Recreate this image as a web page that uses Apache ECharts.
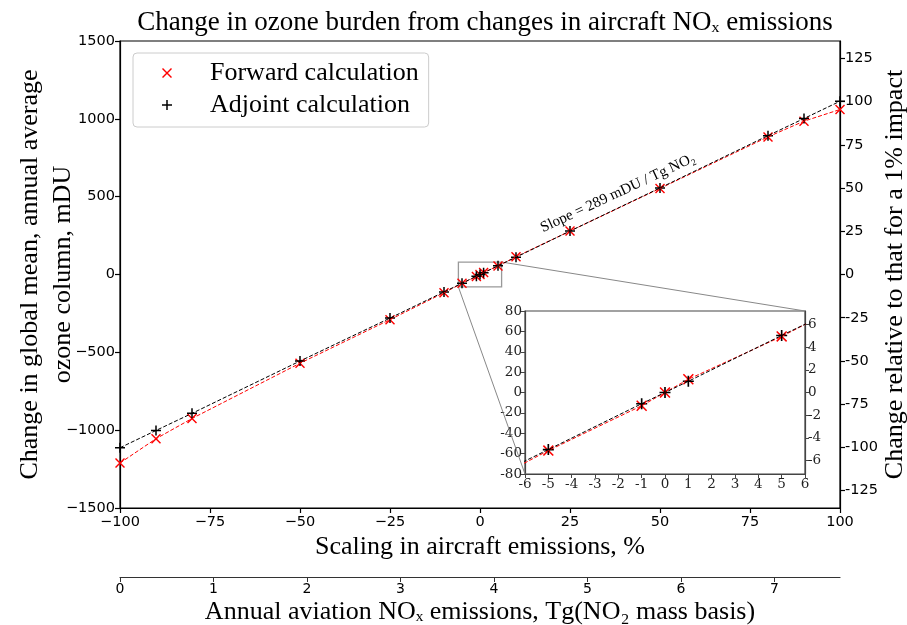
<!DOCTYPE html>
<html><head><meta charset="utf-8">
<script src="https://cdn.jsdelivr.net/npm/echarts@6/dist/echarts.min.js"></script>
<style>html,body{margin:0;background:#fff}#c{width:907px;height:625px}</style>
</head><body><div id="c"></div>
<script>
// ---- data ----
const scaling = [-100,-90,-80,-50,-25,-10,-5,-1,0,1,5,10,25,50,80,90,100];
const forward = [-1211,-1055,-925,-570,-290,-117,-57,-13,0,13,55,114,279,553,884,985,1060];
const adjoint = [-1113,-1002,-892,-556,-280,-112,-56,-11,0,11,56,111,279,556,892,1002,1113];
const mainXTicks = [-100,-75,-50,-25,0,25,50,75,100];
const leftYTicks = [-1500,-1000,-500,0,500,1000,1500];
const rightYTicks = [-125,-100,-75,-50,-25,0,25,50,75,100,125];
const emissionTicks = [0,1,2,3,4,5,6,7];
const insetXTicks = [-6,-5,-4,-3,-2,-1,0,1,2,3,4,5,6];
const insetYTicks = [-80,-60,-40,-20,0,20,40,60,80];
const insetRightTicks = [-6,-4,-2,0,2,4,6];
const baseEmission = 3.85;      // Tg NO2 at 0% scaling
const percentPerMdu = 0.09;     // right axis: % of 1% impact per mDU
const slopeLabel = 'Slope = 289 mDU / Tg NO\u2082';

const xPath = 'path://M0,1 L1,0 L10,9 L9,10 Z M9,0 L10,1 L1,10 L0,9 Z';
const plusPath = 'path://M4.25,0 H5.75 V10 H4.25 Z M0,4.25 H10 V5.75 H0 Z';
const pairs = ys => scaling.map((x,i)=>[x, ys[i]]);
const uminus = v => String(v).replace('-', '\u2212');
const serif = 'Liberation Serif';
const sans = 'DejaVu Sans';

const chart = echarts.init(document.getElementById('c'), null, {renderer:'canvas'});

function lineS(name, ys, color, xi, yi, extra) {
  return Object.assign({type:'line', name, data:pairs(ys), xAxisIndex:xi, yAxisIndex:yi,
    symbol:'none', silent:true, animation:false, clip:true,
    lineStyle:{color, width:1, type:[4,2]}}, extra||{});
}
function scatS(name, ys, color, path, size, xi, yi) {
  return {type:'scatter', name, data:pairs(ys), xAxisIndex:xi, yAxisIndex:yi,
    symbol:path, symbolSize:size, itemStyle:{color, opacity:1}, clip:true, silent:true, animation:false};
}

const tickBlack = {show:true, inside:false, length:5, lineStyle:{color:'#000', width:1.2}};
const axisLineBlack = {show:true, onZero:false, lineStyle:{color:'#000', width:1.2}};
const insetLine = {show:true, onZero:false, lineStyle:{color:'#444', width:1.2}};
const nameFont = {fontFamily:serif, fontSize:26, color:'#000'};

chart.setOption({
  animation:false,
  backgroundColor:'#fff',
  title:{text:'Change in ozone burden from changes in aircraft NO\u2093 emissions', left:480, textAlign:'center', top:4,
    textStyle:{fontFamily:serif, fontSize:27, fontWeight:'normal', color:'#000'}},
  legend:{orient:'vertical', left:133, top:53, data:['Forward calculation','Adjoint calculation'],
    itemWidth:10, itemHeight:10, itemGap:6, padding:[7,10,9,29],
    borderColor:'#ccc', borderWidth:1, borderRadius:4, backgroundColor:'rgba(255,255,255,0.8)',
    selectedMode:false,
    textStyle:{fontFamily:serif, fontSize:26, color:'#000', lineHeight:26, padding:[0,0,0,33]}},
  grid:[
    {left:120, right:67, top:41, bottom:117, outerBoundsMode:'none', containLabel:false,
      show:true, borderColor:'#000', borderWidth:1.2, backgroundColor:'transparent'},
    {left:525, right:102, top:311, bottom:151, outerBoundsMode:'none', containLabel:false,
      show:true, borderColor:'#444', borderWidth:1.2, backgroundColor:'#fff'}
  ],
  xAxis:[
    {type:'value', gridIndex:0, min:-100, max:100, interval:25, position:'bottom',
      axisLine:axisLineBlack, axisTick:tickBlack, splitLine:{show:false},
      axisLabel:{fontFamily:sans, fontSize:14.5, color:'#000', margin:7, formatter:uminus},
      name:'Scaling in aircraft emissions, %', nameLocation:'middle', nameGap:26, nameMoveOverlap:false, nameTextStyle:nameFont},
    {type:'value', gridIndex:0, min:0, max:2*baseEmission, position:'bottom', offset:69,
      axisLine:{show:true, onZero:false, lineStyle:{color:'#333', width:1.2}},
      axisTick:{show:true, length:5, lineStyle:{color:'#333'}, customValues:emissionTicks},
      axisLabel:{fontFamily:sans, fontSize:14, color:'#000', margin:5, customValues:emissionTicks},
      splitLine:{show:false},
      name:'Annual aviation NO\u2093 emissions, Tg(NO\u2082 mass basis)', nameLocation:'middle', nameGap:22, nameMoveOverlap:false, nameTextStyle:nameFont},
    {type:'value', gridIndex:1, min:-6, max:6, interval:1,
      axisLine:insetLine,
      axisTick:{show:true, length:4, lineStyle:{color:'#444'}},
      axisLabel:{fontFamily:'DejaVu Serif', fontSize:13.5, color:'#222', margin:3},
      splitLine:{show:false}}
  ],
  yAxis:[
    {type:'value', gridIndex:0, min:-1500, max:1500, interval:500, position:'left',
      axisLine:axisLineBlack, axisTick:tickBlack, splitLine:{show:false},
      axisLabel:{fontFamily:sans, fontSize:14.5, color:'#000', margin:5, formatter:uminus},
      name:'Change in global mean, annual average\nozone column, mDU', nameLocation:'middle', nameRotate:90, nameGap:40, nameMoveOverlap:false,
      nameTextStyle:Object.assign({}, nameFont, {lineHeight:33})},
    {type:'value', gridIndex:0, min:-1500*percentPerMdu, max:1500*percentPerMdu, position:'right',
      axisLine:axisLineBlack, splitLine:{show:false},
      axisTick:Object.assign({customValues:rightYTicks}, tickBlack),
      axisLabel:{fontFamily:sans, fontSize:14.5, color:'#000', margin:5, customValues:rightYTicks},
      name:'Change relative to that for a 1% impact', nameLocation:'middle', nameRotate:90, nameGap:42, nameMoveOverlap:false, nameTextStyle:nameFont},
    {type:'value', gridIndex:1, min:-80, max:80, interval:20, position:'left',
      axisLine:insetLine,
      axisTick:{show:true, length:4, lineStyle:{color:'#444'}},
      axisLabel:{fontFamily:'DejaVu Serif', fontSize:13.5, color:'#222', margin:3},
      splitLine:{show:false}},
    {type:'value', gridIndex:1, min:-80*percentPerMdu, max:80*percentPerMdu, position:'right',
      axisLine:insetLine,
      axisTick:{show:true, length:4, lineStyle:{color:'#444'}, customValues:insetRightTicks},
      axisLabel:{fontFamily:'DejaVu Serif', fontSize:13.5, color:'#222', margin:3, customValues:insetRightTicks},
      splitLine:{show:false}}
  ],
  series:[
    lineS('fwd-line', forward, '#ff0000', 0, 0),
    lineS('adj-line', adjoint, '#000000', 0, 0, {markArea:{silent:true,
      itemStyle:{color:'rgba(0,0,0,0)', borderColor:'#999', borderWidth:1.3},
      data:[[{coord:[insetXTicks[0], insetYTicks[0]]},{coord:[insetXTicks[insetXTicks.length-1], insetYTicks[insetYTicks.length-1]]}]]}}),
    scatS('Forward calculation', forward, '#ff0000', xPath, 10, 0, 0),
    scatS('Adjoint calculation', adjoint, '#000000', plusPath, 10, 0, 0),
    lineS('fwd-line-in', forward, '#ff0000', 2, 2),
    lineS('adj-line-in', adjoint, '#000000', 2, 2),
    scatS('Forward calculation', forward, '#ff0000', xPath, 11, 2, 2),
    scatS('Adjoint calculation', adjoint, '#000000', plusPath, 11, 2, 2)
  ]
});

// connector lines between zoom box and inset, and slope annotation
const mTR = chart.convertToPixel({gridIndex:0}, [6, 80]);
const mBL = chart.convertToPixel({gridIndex:0}, [-6, -80]);
const iTR = chart.convertToPixel({gridIndex:1}, [6, 80]);
const iBL = chart.convertToPixel({gridIndex:1}, [-6, -80]);
const slopeAt = 38.3;
const sp = chart.convertToPixel({gridIndex:0}, [slopeAt, adjoint[adjoint.length-1]/100*slopeAt]);
chart.setOption({graphic:[
  {type:'line', shape:{x1:mTR[0], y1:mTR[1], x2:iTR[0], y2:iTR[1]}, style:{stroke:'#888', lineWidth:1}, z:1, silent:true},
  {type:'line', shape:{x1:mBL[0], y1:mBL[1], x2:iBL[0], y2:iBL[1]}, style:{stroke:'#888', lineWidth:1}, z:1, silent:true},
  {type:'text', x:sp[0], y:sp[1]-15, rotation:25*Math.PI/180, silent:true,
    style:{text:slopeLabel, font:'15px "Liberation Serif"', fill:'#000', align:'center', verticalAlign:'middle'}}
]});
</script></body></html>
